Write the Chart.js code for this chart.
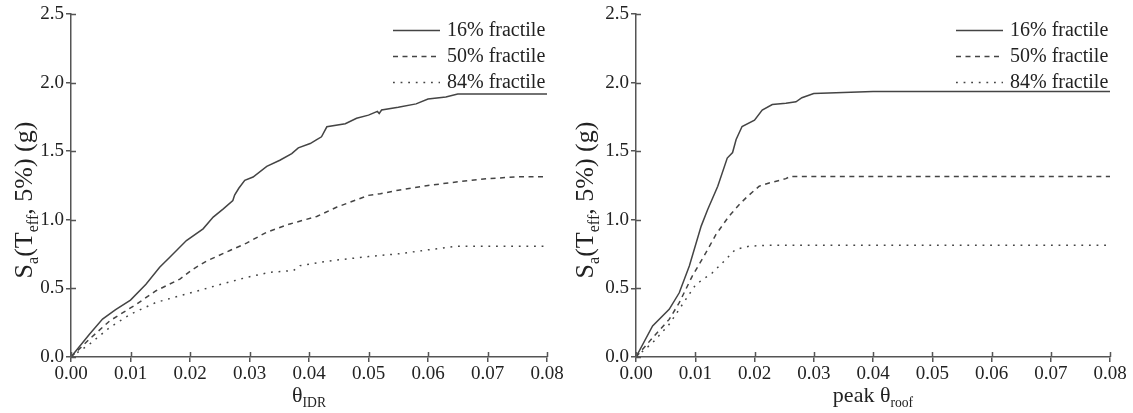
<!DOCTYPE html>
<html><head><meta charset="utf-8">
<script src="https://cdn.jsdelivr.net/npm/chart.js@4.4.1/dist/chart.umd.min.js"></script>
<style>
html,body{margin:0;padding:0;background:#fff;width:1133px;height:413px;overflow:hidden}
.pane{position:absolute;top:0;height:413px}
#p1{left:0;width:575px}
#p2{left:575px;width:558px}
canvas{display:block}
</style></head><body>
<div class="pane" id="p1"><canvas id="c1" width="575" height="413"></canvas></div>
<div class="pane" id="p2"><canvas id="c2" width="558" height="413"></canvas></div>
<script>
// ---- data ----
const seriesLabels = ['16% fractile', '50% fractile', '84% fractile'];
const xTicks = [0, 0.01, 0.02, 0.03, 0.04, 0.05, 0.06, 0.07, 0.08];
const yTicks = [0, 0.5, 1.0, 1.5, 2.0, 2.5];

// left panel: theta_IDR
const idrX16 = [0, 0.0031, 0.0053, 0.0075, 0.01, 0.0126, 0.0149, 0.0166, 0.0194, 0.0222, 0.0239, 0.0256, 0.0272, 0.0275, 0.0282, 0.0292, 0.0306, 0.0329, 0.0351, 0.0371, 0.0382, 0.0402, 0.0413, 0.0421, 0.043, 0.0461, 0.048, 0.05, 0.0515, 0.0518, 0.0522, 0.055, 0.058, 0.06, 0.063, 0.065, 0.08];
const idrY16 = [0, 0.166, 0.276, 0.345, 0.415, 0.53, 0.654, 0.727, 0.849, 0.934, 1.02, 1.08, 1.14, 1.18, 1.23, 1.288, 1.312, 1.39, 1.434, 1.483, 1.524, 1.556, 1.585, 1.605, 1.678, 1.70, 1.74, 1.763, 1.79, 1.775, 1.80, 1.82, 1.845, 1.88, 1.895, 1.917, 1.917];
const idrX50 = [0, 0.0031, 0.0065, 0.011, 0.0143, 0.0183, 0.0205, 0.0228, 0.0267, 0.0295, 0.0329, 0.0368, 0.0413, 0.0447, 0.05, 0.052, 0.055, 0.06, 0.065, 0.07, 0.075, 0.08];
const idrY50 = [0, 0.13, 0.263, 0.385, 0.483, 0.568, 0.64, 0.70, 0.776, 0.83, 0.91, 0.97, 1.024, 1.093, 1.178, 1.19, 1.216, 1.25, 1.277, 1.30, 1.313, 1.313];
const idrX84 = [0, 0.0031, 0.0065, 0.01, 0.0143, 0.0194, 0.0244, 0.0295, 0.0334, 0.0374, 0.0385, 0.0419, 0.0447, 0.05, 0.055, 0.06, 0.065, 0.08];
const idrY84 = [0, 0.093, 0.215, 0.312, 0.398, 0.459, 0.52, 0.58, 0.617, 0.63, 0.666, 0.69, 0.707, 0.732, 0.752, 0.781, 0.808, 0.808];

// right panel: peak theta_roof
const roofX16 = [0, 0.0028, 0.0056, 0.0073, 0.009, 0.011, 0.0121, 0.0138, 0.0154, 0.0163, 0.0169, 0.0179, 0.020, 0.0213, 0.023, 0.0253, 0.027, 0.028, 0.03, 0.04, 0.08];
const roofY16 = [0, 0.226, 0.347, 0.468, 0.663, 0.954, 1.075, 1.245, 1.45, 1.49, 1.585, 1.68, 1.726, 1.80, 1.84, 1.85, 1.86, 1.89, 1.92, 1.935, 1.935];
const roofX50 = [0, 0.0028, 0.0056, 0.0073, 0.0095, 0.0118, 0.0135, 0.0157, 0.0174, 0.0188, 0.0208, 0.0222, 0.0253, 0.026, 0.08];
const roofY50 = [0, 0.14, 0.274, 0.396, 0.59, 0.76, 0.893, 1.027, 1.11, 1.17, 1.245, 1.265, 1.30, 1.316, 1.316];
const roofX84 = [0, 0.0028, 0.0056, 0.0084, 0.0101, 0.0129, 0.0149, 0.0168, 0.0191, 0.0225, 0.08];
const roofY84 = [0, 0.104, 0.238, 0.42, 0.529, 0.614, 0.70, 0.784, 0.808, 0.815, 0.815];

// ---- style ----
const FONT = "'Liberation Serif','Times New Roman',serif";
const AXIS = '#555555';
const TEXT = '#222222';
const LINE = '#444444';
const dashes = [[], [5, 4.5], [1.8, 5.8]];

const pts = (xs, ys) => xs.map((x, i) => ({ x: x, y: ys[i] }));

function richParts(str) {
  // "_{...}" marks subscript
  const parts = [];
  const re = /_\{([^}]*)\}|([^_]+)/g;
  let m;
  while ((m = re.exec(str))) {
    if (m[1] !== undefined) parts.push({ t: m[1], sub: true });
    else parts.push({ t: m[2], sub: false });
  }
  return parts;
}
function richWidth(ctx, parts, size) {
  let w = 0;
  for (const p of parts) {
    ctx.font = (p.sub ? size * 0.62 : size) + 'px ' + FONT;
    w += ctx.measureText(p.t).width;
  }
  return w;
}
function drawRich(ctx, parts, size, x0) {
  let x = x0;
  ctx.textAlign = 'left';
  ctx.textBaseline = 'alphabetic';
  for (const p of parts) {
    const s = p.sub ? size * 0.62 : size;
    ctx.font = s + 'px ' + FONT;
    ctx.fillText(p.t, x, p.sub ? size * 0.22 : 0);
    x += ctx.measureText(p.t).width;
  }
}

const decor = {
  id: 'decor',
  afterDraw(chart, args, o) {
    const { ctx, chartArea: a } = chart;
    const xs = chart.scales.x, ys = chart.scales.y;
    ctx.save();
    // inner half of crossing ticks
    ctx.strokeStyle = AXIS;
    ctx.lineWidth = 1.5;
    ctx.beginPath();
    xs.ticks.forEach(t => {
      const px = Math.round(xs.getPixelForValue(t.value)) + 0.5;
      ctx.moveTo(px, a.bottom); ctx.lineTo(px, a.bottom - 5);
    });
    ys.ticks.forEach(t => {
      const py = Math.round(ys.getPixelForValue(t.value)) + 0.5;
      ctx.moveTo(a.left, py); ctx.lineTo(a.left + 5, py);
    });
    ctx.stroke();
    // legend
    chart.data.datasets.forEach((ds, i) => {
      const cy = a.top + 16 + i * 26;
      const tx = a.right - 100;
      ctx.strokeStyle = ds.borderColor;
      ctx.lineWidth = ds.borderWidth;
      ctx.setLineDash(ds.borderDash || []);
      ctx.beginPath();
      ctx.moveTo(tx - 54, cy + 0.5); ctx.lineTo(tx - 7, cy + 0.5);
      ctx.stroke();
      ctx.setLineDash([]);
      ctx.fillStyle = TEXT;
      ctx.font = '20px ' + FONT;
      ctx.textAlign = 'left';
      ctx.textBaseline = 'middle';
      ctx.fillText(ds.label, tx, cy + 1);
    });
    // x title
    ctx.fillStyle = TEXT;
    const xp = richParts(o.xTitle);
    const xw = richWidth(ctx, xp, o.xSize);
    ctx.save();
    ctx.translate((a.left + a.right) / 2, o.xBase);
    drawRich(ctx, xp, o.xSize, -xw / 2);
    ctx.restore();
    // y title
    const yp = richParts(o.yTitle);
    const yw = richWidth(ctx, yp, o.ySize);
    ctx.save();
    ctx.translate(a.left - o.yOff, o.yCenter);
    ctx.rotate(-Math.PI / 2);
    drawRich(ctx, yp, o.ySize, -yw / 2);
    ctx.restore();
    ctx.restore();
  }
};

function makeChart(id, sets, yWidth, padRight, xTitle, yOff) {
  const datasets = sets.map((s, i) => ({
    label: seriesLabels[i],
    data: pts(s[0], s[1]),
    borderColor: LINE,
    borderWidth: 1.5,
    borderDash: dashes[i],
    pointRadius: 0,
    tension: 0,
    fill: false
  }));
  return new Chart(document.getElementById(id), {
    type: 'line',
    data: { datasets },
    plugins: [decor],
    options: {
      responsive: false,
      animation: false,
      devicePixelRatio: 1,
      layout: { padding: { top: 14, right: padRight, left: 0, bottom: 0 } },
      plugins: {
        legend: { display: false },
        tooltip: { enabled: false },
        decor: { xTitle: xTitle, xSize: 22, xBase: 402, yTitle: 'S_{a}(T_{eff}, 5%) (g)', ySize: 26, yOff: yOff, yCenter: 200 }
      },
      scales: {
        x: {
          type: 'linear', min: 0, max: 0.08,
          afterFit: s => { s.height = 56; },
          afterBuildTicks: s => { s.ticks = xTicks.map(v => ({ value: v })); },
          grid: { drawOnChartArea: false, drawTicks: true, tickLength: 5, color: AXIS, lineWidth: 1.5 },
          border: { display: true, color: AXIS, width: 1.5 },
          ticks: { font: { size: 19, family: FONT }, color: TEXT, padding: 1, maxRotation: 0, autoSkip: false,
                   callback: v => Number(v).toFixed(2) }
        },
        y: {
          type: 'linear', min: 0, max: 2.5,
          afterFit: s => { s.width = yWidth; },
          afterBuildTicks: s => { s.ticks = yTicks.map(v => ({ value: v })); },
          grid: { drawOnChartArea: false, drawTicks: true, tickLength: 5, color: AXIS, lineWidth: 1.5 },
          border: { display: true, color: AXIS, width: 1.5 },
          ticks: { font: { size: 19, family: FONT }, color: TEXT, padding: 2, autoSkip: false,
                   callback: v => Number(v).toFixed(1) }
        }
      }
    }
  });
}

makeChart('c1', [[idrX16, idrY16], [idrX50, idrY50], [idrX84, idrY84]], 71, 28, '\u03B8_{IDR}', 39);
makeChart('c2', [[roofX16, roofY16], [roofX50, roofY50], [roofX84, roofY84]], 61, 23, 'peak \u03B8_{roof}', 43);
</script>
</body></html>
